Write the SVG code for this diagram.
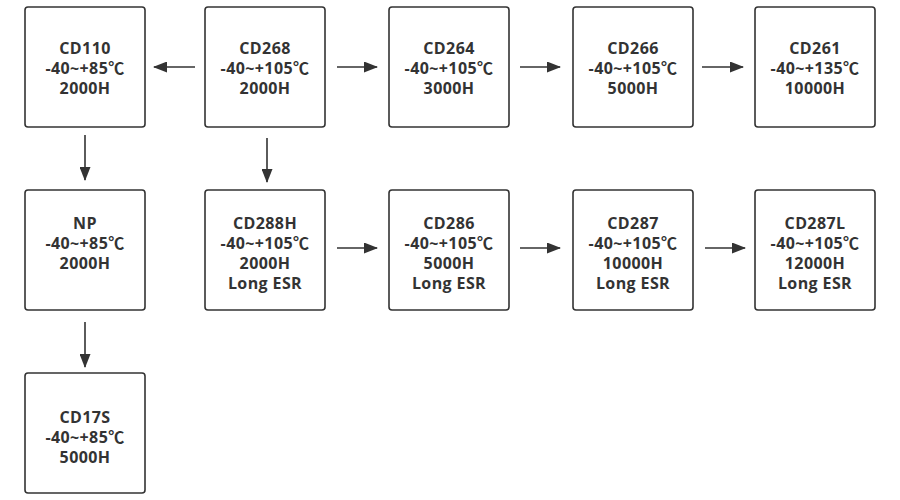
<svg xmlns="http://www.w3.org/2000/svg" width="900" height="500" viewBox="0 0 900 500">
<defs>
<marker id="ah" markerWidth="14" markerHeight="11" refX="13" refY="5.5" orient="auto" markerUnits="userSpaceOnUse">
<path d="M0,0 L14,5.5 L0,11 Z" fill="#333"/>
</marker>
<style>
.box{fill:#fff;stroke:#333;stroke-width:1.6}
.t{font-family:"Open Sans","Noto Sans CJK SC",sans-serif;font-weight:bold;font-size:16px;letter-spacing:0.4px;fill:#333;text-anchor:middle}
.c{stroke:#333;stroke-width:1.6;fill:none;marker-end:url(#ah)}
</style>
</defs>
<rect width="900" height="500" fill="#fff"/>
<g id="CD110"><rect class="box" x="25" y="7" width="120" height="120" rx="3"/>
<text class="t" x="85" y="54">CD110</text><text class="t" x="85" y="74">-40~+85℃</text><text class="t" x="85" y="94">2000H</text></g>
<g id="CD268"><rect class="box" x="205" y="7" width="120" height="120" rx="3"/>
<text class="t" x="265" y="54">CD268</text><text class="t" x="265" y="74">-40~+105℃</text><text class="t" x="265" y="94">2000H</text></g>
<g id="CD264"><rect class="box" x="389" y="7" width="120" height="120" rx="3"/>
<text class="t" x="449" y="54">CD264</text><text class="t" x="449" y="74">-40~+105℃</text><text class="t" x="449" y="94">3000H</text></g>
<g id="CD266"><rect class="box" x="573" y="7" width="120" height="120" rx="3"/>
<text class="t" x="633" y="54">CD266</text><text class="t" x="633" y="74">-40~+105℃</text><text class="t" x="633" y="94">5000H</text></g>
<g id="CD261"><rect class="box" x="755" y="7" width="120" height="120" rx="3"/>
<text class="t" x="815" y="54">CD261</text><text class="t" x="815" y="74">-40~+135℃</text><text class="t" x="815" y="94">10000H</text></g>
<g id="NP"><rect class="box" x="25" y="190" width="120" height="120" rx="3"/>
<text class="t" x="85" y="229">NP</text><text class="t" x="85" y="249">-40~+85℃</text><text class="t" x="85" y="269">2000H</text></g>
<g id="CD288H"><rect class="box" x="205" y="190" width="120" height="120" rx="3"/>
<text class="t" x="265" y="229">CD288H</text><text class="t" x="265" y="249">-40~+105℃</text><text class="t" x="265" y="269">2000H</text><text class="t" x="265" y="289">Long ESR</text></g>
<g id="CD286"><rect class="box" x="389" y="190" width="120" height="120" rx="3"/>
<text class="t" x="449" y="229">CD286</text><text class="t" x="449" y="249">-40~+105℃</text><text class="t" x="449" y="269">5000H</text><text class="t" x="449" y="289">Long ESR</text></g>
<g id="CD287"><rect class="box" x="573" y="190" width="120" height="120" rx="3"/>
<text class="t" x="633" y="229">CD287</text><text class="t" x="633" y="249">-40~+105℃</text><text class="t" x="633" y="269">10000H</text><text class="t" x="633" y="289">Long ESR</text></g>
<g id="CD287L"><rect class="box" x="755" y="190" width="120" height="120" rx="3"/>
<text class="t" x="815" y="229">CD287L</text><text class="t" x="815" y="249">-40~+105℃</text><text class="t" x="815" y="269">12000H</text><text class="t" x="815" y="289">Long ESR</text></g>
<g id="CD17S"><rect class="box" x="25" y="373" width="120" height="120" rx="3"/>
<text class="t" x="85" y="423">CD17S</text><text class="t" x="85" y="443">-40~+85℃</text><text class="t" x="85" y="463">5000H</text></g>
<g id="connectors">
<line class="c" x1="195" y1="67" x2="154" y2="67"/>
<line class="c" x1="337" y1="67" x2="377" y2="67"/>
<line class="c" x1="520" y1="67" x2="560" y2="67"/>
<line class="c" x1="702" y1="67" x2="743" y2="67"/>
<line class="c" x1="85" y1="135" x2="85" y2="180"/>
<line class="c" x1="267" y1="138" x2="267" y2="182"/>
<line class="c" x1="337" y1="248" x2="377" y2="248"/>
<line class="c" x1="520" y1="248" x2="560" y2="248"/>
<line class="c" x1="705" y1="248" x2="745" y2="248"/>
<line class="c" x1="85" y1="322" x2="85" y2="367"/>
</g>
</svg>
